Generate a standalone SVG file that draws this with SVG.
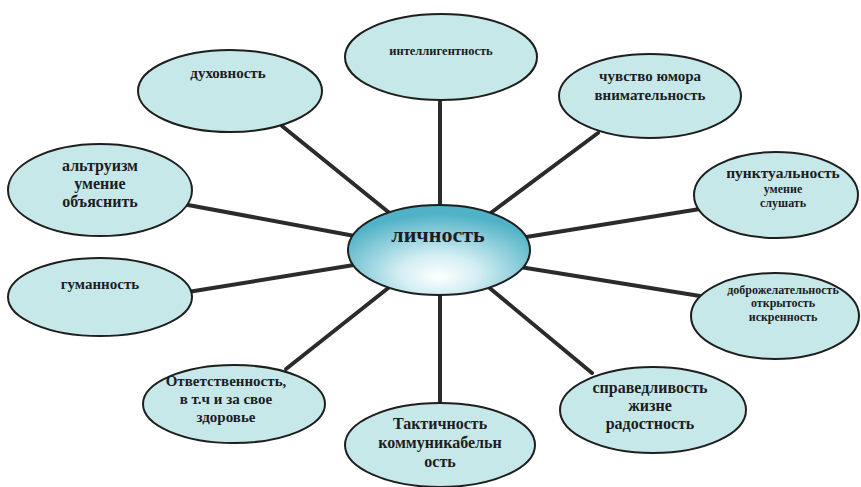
<svg xmlns="http://www.w3.org/2000/svg" width="861" height="487" viewBox="0 0 861 487">
<style>
.n{fill:#c6e8e8;stroke:#1e1e1e;stroke-width:2}
.c{stroke:#2b2b2b;stroke-width:4;stroke-linecap:round;fill:none}
text{font-family:'Liberation Serif','DejaVu Serif','Times New Roman',serif;font-weight:700;fill:#1c1c24;text-anchor:middle}
</style>
<defs>
<radialGradient id="g" cx="50%" cy="72%" r="62%" fx="50%" fy="80%">
<stop offset="0" stop-color="#ffffff"/>
<stop offset="0.35" stop-color="#d3eef3"/>
<stop offset="1" stop-color="#4fb2c6"/>
</radialGradient>
</defs>
<rect width="861" height="487" fill="#ffffff"/>
<g id="connectors">
<line class="c" x1="440" y1="95" x2="440" y2="215"/>
<line class="c" x1="282" y1="126" x2="392" y2="215"/>
<line class="c" x1="598" y1="133" x2="488" y2="215"/>
<line class="c" x1="188" y1="205" x2="360" y2="237"/>
<line class="c" x1="700" y1="209" x2="520" y2="238"/>
<line class="c" x1="188" y1="292" x2="360" y2="264"/>
<line class="c" x1="700" y1="296" x2="520" y2="267"/>
<line class="c" x1="286" y1="369" x2="392" y2="285"/>
<line class="c" x1="440" y1="285" x2="440" y2="410"/>
<line class="c" x1="592" y1="373" x2="486" y2="285"/>
</g>
<g id="center">
<ellipse cx="439" cy="250" rx="91" ry="45" fill="url(#g)" stroke="#1e1e1e" stroke-width="2"/>
<text x="438" y="242" font-size="22" font-family="Liberation Serif, serif">личность</text>
</g>
<g id="n-intel">
<ellipse class="n" cx="441" cy="57" rx="96" ry="43"/>
<text x="441" y="55" font-size="12.5">интеллигентность</text>
</g>
<g id="n-duh">
<ellipse class="n" cx="230" cy="91" rx="92" ry="41"/>
<text x="228" y="78" font-size="15">духовность</text>
</g>
<g id="n-humor">
<ellipse class="n" cx="650" cy="96" rx="91" ry="42"/>
<text x="650" y="81" font-size="15">чувство юмора</text>
<text x="650" y="100" font-size="15">внимательность</text>
</g>
<g id="n-altr">
<ellipse class="n" cx="100" cy="190" rx="92" ry="46"/>
<text x="100" y="171" font-size="16">альтруизм</text>
<text x="100" y="189" font-size="16">умение</text>
<text x="100" y="207" font-size="16">объяснить</text>
</g>
<g id="n-punkt">
<ellipse class="n" cx="776" cy="195" rx="82" ry="43"/>
<text x="783" y="178" font-size="15.5">пунктуальность</text>
<text x="783" y="193" font-size="12">умение</text>
<text x="783" y="207" font-size="12">слушать</text>
</g>
<g id="n-gum">
<ellipse class="n" cx="100" cy="297" rx="92" ry="39"/>
<text x="100" y="289" font-size="15">гуманность</text>
</g>
<g id="n-dobro">
<ellipse class="n" cx="775" cy="316" rx="84" ry="43"/>
<text x="783" y="294" font-size="12">доброжелательность</text>
<text x="783" y="307" font-size="12">открытость</text>
<text x="783" y="321" font-size="12">искренность</text>
</g>
<g id="n-otv">
<ellipse class="n" cx="234" cy="404" rx="91" ry="39"/>
<text x="226" y="386" font-size="15">Ответственность,</text>
<text x="226" y="404" font-size="15">в т.ч и за свое</text>
<text x="226" y="422" font-size="15">здоровье</text>
</g>
<g id="n-takt">
<ellipse class="n" cx="440" cy="445" rx="95" ry="42"/>
<text x="440" y="429" font-size="16">Тактичность</text>
<text x="440" y="448" font-size="16">коммуникабельн</text>
<text x="440" y="467" font-size="16">ость</text>
</g>
<g id="n-sprav">
<ellipse class="n" cx="653" cy="410" rx="93" ry="43"/>
<text x="650" y="393" font-size="16">справедливость</text>
<text x="650" y="411" font-size="16">жизне</text>
<text x="650" y="429" font-size="16">радостность</text>
</g>
</svg>
